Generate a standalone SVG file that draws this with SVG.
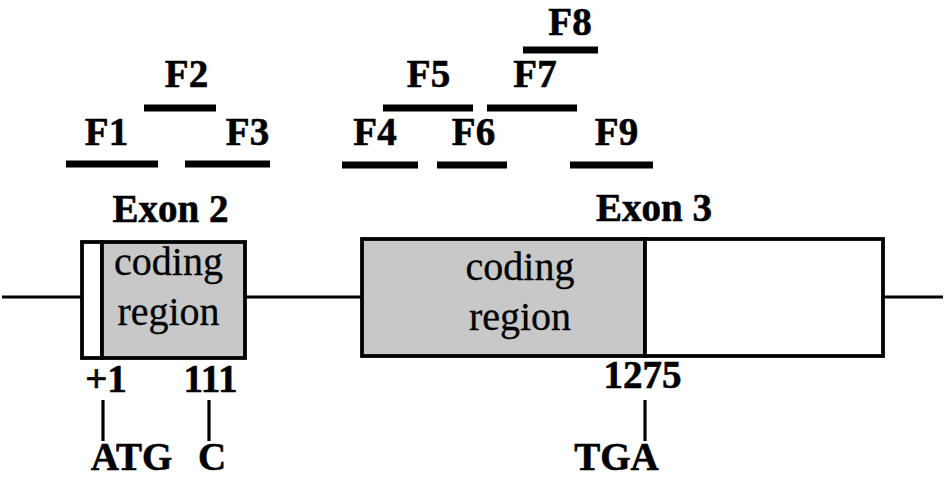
<svg xmlns="http://www.w3.org/2000/svg" width="945" height="479" viewBox="0 0 945 479">
<style>
.lbl{font-family:"Liberation Serif","Times New Roman",serif;font-weight:bold;font-size:39px;fill:#000;stroke:#000;stroke-width:0.6;text-anchor:middle}
.reg{font-family:"Liberation Serif","Times New Roman",serif;font-size:40px;fill:#000;stroke:#000;stroke-width:0.3;text-anchor:middle}
.bar{stroke:#000;stroke-width:7}
.ln{stroke:#000;stroke-width:3.2;fill:none}
.box{stroke:#000;stroke-width:3.8}
</style>
<rect width="945" height="479" fill="#fff"/>
<g id="connectors">
<line class="ln" x1="2" y1="297" x2="82" y2="297"/>
<line class="ln" x1="245" y1="297" x2="361" y2="297"/>
<line class="ln" x1="883" y1="297" x2="943" y2="297"/>
<line class="ln" x1="103" y1="400" x2="103" y2="441"/>
<line class="ln" x1="209" y1="400" x2="209" y2="441"/>
<line class="ln" x1="645" y1="400" x2="645" y2="441"/>
</g>
<g id="fragments">
<g id="F1"><line class="bar" x1="66" y1="164" x2="158" y2="164"/><text class="lbl" x="106.5" y="145">F1</text></g>
<g id="F2"><line class="bar" x1="144" y1="108" x2="216" y2="108"/><text class="lbl" x="186.5" y="87">F2</text></g>
<g id="F3"><line class="bar" x1="185" y1="164" x2="270" y2="164"/><text class="lbl" x="247.5" y="145">F3</text></g>
<g id="F4"><line class="bar" x1="342" y1="165" x2="418" y2="165"/><text class="lbl" x="375" y="145">F4</text></g>
<g id="F5"><line class="bar" x1="383" y1="108" x2="473" y2="108"/><text class="lbl" x="428.5" y="87">F5</text></g>
<g id="F6"><line class="bar" x1="437" y1="165" x2="507" y2="165"/><text class="lbl" x="473.5" y="145">F6</text></g>
<g id="F7"><line class="bar" x1="487" y1="108" x2="577" y2="108"/><text class="lbl" x="535" y="87">F7</text></g>
<g id="F8"><line class="bar" x1="523" y1="50" x2="598" y2="50"/><text class="lbl" x="570" y="35">F8</text></g>
<g id="F9"><line class="bar" x1="570" y1="165" x2="653" y2="165"/><text class="lbl" x="616.5" y="145">F9</text></g>
</g>
<g id="exon2">
<text class="lbl" x="170.5" y="222">Exon 2</text>
<rect class="box" x="82" y="242" width="20" height="116" fill="#fff"/>
<rect class="box" x="102" y="242" width="143" height="116" fill="#c8c8c8"/>
<text class="reg" x="168.5" y="275">coding</text>
<text class="reg" x="168.5" y="325">region</text>
<text class="lbl" x="106" y="392">+1</text>
<text class="lbl" x="210.5" y="392">111</text>
<text class="lbl" x="131.5" y="470">ATG</text>
<text class="lbl" x="212" y="470">C</text>
</g>
<g id="exon3">
<text class="lbl" x="654" y="221">Exon 3</text>
<rect class="box" x="362" y="239" width="283" height="117" fill="#c8c8c8"/>
<rect class="box" x="645" y="239" width="238" height="117" fill="#fff"/>
<text class="reg" x="520" y="280">coding</text>
<text class="reg" x="520" y="330">region</text>
<text class="lbl" x="642.5" y="388">1275</text>
<text class="lbl" x="616.5" y="470">TGA</text>
</g>
</svg>
